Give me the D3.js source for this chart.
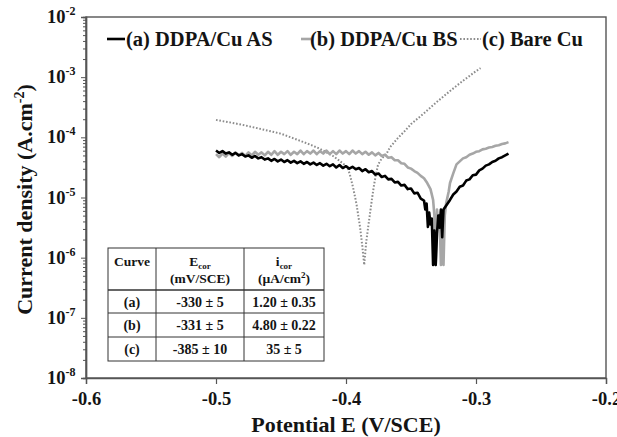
<!DOCTYPE html>
<html>
<head>
<meta charset="utf-8">
<script src="https://cdn.jsdelivr.net/npm/d3@7"></script>
<style>
  html, body { margin: 0; padding: 0; background: #fff; }
  svg { display: block; }
  svg text { font-family: "Liberation Serif", "DejaVu Serif", serif !important; font-weight: bold; }
</style>
</head>
<body>
<svg id="chart" width="617" height="437"></svg>
<script>
// Polarisation curves: potential E (V/SCE) vs current density (A/cm²)
const curveA = [ // (a) DDPA/Cu AS
  [-0.5000, 6.03e-5], [-0.4975, 5.50e-5], [-0.4950, 5.89e-5], [-0.4925, 5.37e-5], [-0.4900, 5.62e-5],
  [-0.4875, 5.13e-5], [-0.4850, 5.50e-5], [-0.4825, 5.01e-5], [-0.4800, 5.25e-5], [-0.4775, 4.79e-5],
  [-0.4750, 5.01e-5], [-0.4725, 4.57e-5], [-0.4700, 4.90e-5], [-0.4675, 4.47e-5], [-0.4650, 4.68e-5],
  [-0.4625, 4.27e-5], [-0.4600, 4.47e-5], [-0.4575, 4.07e-5], [-0.4550, 4.37e-5], [-0.4525, 3.98e-5],
  [-0.4500, 4.27e-5], [-0.4475, 3.89e-5], [-0.4450, 4.17e-5], [-0.4425, 3.80e-5], [-0.4400, 4.07e-5],
  [-0.4375, 3.72e-5], [-0.4350, 3.98e-5], [-0.4325, 3.63e-5], [-0.4300, 3.89e-5], [-0.4275, 3.55e-5],
  [-0.4250, 3.80e-5], [-0.4225, 3.47e-5], [-0.4200, 3.72e-5], [-0.4175, 3.39e-5], [-0.4150, 3.63e-5],
  [-0.4125, 3.31e-5], [-0.4100, 3.55e-5], [-0.4075, 3.16e-5], [-0.4050, 3.47e-5], [-0.4025, 3.09e-5],
  [-0.4000, 3.31e-5], [-0.3975, 3.02e-5], [-0.3950, 3.24e-5], [-0.3925, 2.95e-5], [-0.3900, 3.09e-5],
  [-0.3875, 2.75e-5], [-0.3850, 2.95e-5], [-0.3825, 2.63e-5], [-0.3800, 2.75e-5], [-0.3775, 2.40e-5],
  [-0.3750, 2.51e-5], [-0.3725, 2.19e-5], [-0.3700, 2.29e-5], [-0.3675, 2.00e-5], [-0.3650, 2.04e-5],
  [-0.3625, 1.78e-5], [-0.3600, 1.82e-5], [-0.3575, 1.58e-5], [-0.3550, 1.62e-5], [-0.3525, 1.38e-5],
  [-0.3500, 1.41e-5], [-0.3475, 1.17e-5], [-0.3450, 1.20e-5], [-0.3425, 9.55e-6], [-0.3400, 8.91e-6],
  [-0.3390, 6.31e-6], [-0.3380, 7.94e-6], [-0.3370, 3.24e-6], [-0.3360, 5.62e-6], [-0.3350, 3.55e-6],
  [-0.3340, 4.47e-6], [-0.3330, 7.59e-7], [-0.3320, 2.82e-6], [-0.3310, 7.59e-7], [-0.3300, 2.51e-6],
  [-0.3290, 5.01e-6], [-0.3280, 3.16e-6], [-0.3270, 6.31e-6], [-0.3260, 2.19e-6], [-0.3250, 6.31e-6],
  [-0.3225, 7.59e-6], [-0.3200, 9.12e-6], [-0.3175, 1.12e-5], [-0.3150, 1.26e-5], [-0.3125, 1.51e-5],
  [-0.3100, 1.58e-5], [-0.3075, 1.91e-5], [-0.3050, 2.00e-5], [-0.3025, 2.34e-5], [-0.3000, 2.40e-5],
  [-0.2975, 2.82e-5], [-0.2950, 3.02e-5], [-0.2925, 3.39e-5], [-0.2900, 3.55e-5], [-0.2875, 3.89e-5],
  [-0.2850, 4.07e-5], [-0.2825, 4.47e-5], [-0.2800, 4.68e-5], [-0.2775, 5.01e-5], [-0.2750, 5.37e-5]
];

const curveB = [ // (b) DDPA/Cu BS
  [-0.5000, 5.25e-5], [-0.4975, 4.68e-5], [-0.4950, 5.37e-5], [-0.4925, 4.79e-5], [-0.4900, 5.50e-5],
  [-0.4875, 4.90e-5], [-0.4850, 5.62e-5], [-0.4825, 5.01e-5], [-0.4800, 5.50e-5], [-0.4775, 4.90e-5],
  [-0.4750, 5.62e-5], [-0.4725, 5.01e-5], [-0.4700, 5.75e-5], [-0.4675, 5.13e-5], [-0.4650, 5.62e-5],
  [-0.4625, 5.01e-5], [-0.4600, 5.75e-5], [-0.4575, 5.13e-5], [-0.4550, 5.89e-5], [-0.4525, 5.13e-5],
  [-0.4500, 5.75e-5], [-0.4475, 5.25e-5], [-0.4450, 5.89e-5], [-0.4425, 5.13e-5], [-0.4400, 5.75e-5],
  [-0.4375, 5.25e-5], [-0.4350, 6.03e-5], [-0.4325, 5.25e-5], [-0.4300, 5.89e-5], [-0.4275, 5.37e-5],
  [-0.4250, 6.03e-5], [-0.4225, 5.25e-5], [-0.4200, 5.89e-5], [-0.4175, 5.37e-5], [-0.4150, 6.03e-5],
  [-0.4125, 5.25e-5], [-0.4100, 5.89e-5], [-0.4075, 5.25e-5], [-0.4050, 6.03e-5], [-0.4025, 5.37e-5],
  [-0.4000, 5.89e-5], [-0.3975, 5.25e-5], [-0.3950, 6.03e-5], [-0.3925, 5.37e-5], [-0.3900, 5.89e-5],
  [-0.3875, 5.25e-5], [-0.3850, 5.75e-5], [-0.3825, 5.13e-5], [-0.3800, 5.62e-5], [-0.3775, 5.01e-5],
  [-0.3750, 5.50e-5], [-0.3725, 4.90e-5], [-0.3700, 5.13e-5], [-0.3675, 4.57e-5], [-0.3650, 4.68e-5],
  [-0.3625, 4.17e-5], [-0.3600, 4.17e-5], [-0.3575, 3.72e-5], [-0.3550, 3.63e-5], [-0.3525, 3.16e-5],
  [-0.3500, 3.02e-5], [-0.3475, 2.75e-5], [-0.3450, 2.57e-5], [-0.3425, 2.29e-5], [-0.3400, 2.09e-5],
  [-0.3375, 1.74e-5], [-0.3350, 1.38e-5], [-0.3330, 9.12e-6], [-0.3320, 5.01e-6], [-0.3310, 7.59e-7],
  [-0.3300, 6.31e-6], [-0.3290, 3.55e-6], [-0.3280, 5.01e-6], [-0.3270, 7.59e-7], [-0.3260, 3.16e-6],
  [-0.3250, 7.59e-7], [-0.3240, 5.01e-6], [-0.3230, 7.94e-6], [-0.3210, 1.26e-5], [-0.3200, 1.74e-5],
  [-0.3175, 2.51e-5], [-0.3150, 3.55e-5], [-0.3125, 3.98e-5], [-0.3100, 4.47e-5], [-0.3075, 4.68e-5],
  [-0.3050, 5.13e-5], [-0.3025, 5.37e-5], [-0.3000, 5.75e-5], [-0.2975, 5.89e-5], [-0.2950, 6.31e-5],
  [-0.2925, 6.46e-5], [-0.2900, 6.76e-5], [-0.2875, 6.92e-5], [-0.2850, 7.24e-5], [-0.2825, 7.41e-5],
  [-0.2800, 7.76e-5], [-0.2775, 7.94e-5], [-0.2750, 8.32e-5]
];

const curveC = [ // (c) Bare Cu
  [-0.5000, 1.95e-4], [-0.4900, 1.78e-4], [-0.4800, 1.62e-4], [-0.4700, 1.45e-4], [-0.4600, 1.29e-4],
  [-0.4500, 1.15e-4], [-0.4400, 9.55e-5], [-0.4300, 7.94e-5], [-0.4200, 6.46e-5], [-0.4100, 4.90e-5],
  [-0.4050, 4.07e-5], [-0.3990, 3.24e-5], [-0.3970, 2.40e-5], [-0.3946, 1.48e-5], [-0.3920, 7.94e-6],
  [-0.3892, 3.24e-6], [-0.3875, 1.58e-6], [-0.3860, 7.59e-7], [-0.3845, 1.78e-6], [-0.3830, 3.16e-6],
  [-0.3815, 5.50e-6], [-0.3800, 9.55e-6], [-0.3785, 1.58e-5], [-0.3770, 2.40e-5], [-0.3755, 3.39e-5],
  [-0.3740, 3.98e-5], [-0.3720, 4.57e-5], [-0.3700, 5.01e-5], [-0.3685, 5.50e-5], [-0.3660, 6.92e-5],
  [-0.3600, 9.77e-5], [-0.3550, 1.26e-4], [-0.3500, 1.66e-4], [-0.3450, 2.04e-4], [-0.3400, 2.51e-4],
  [-0.3300, 3.89e-4], [-0.3200, 5.89e-4], [-0.3100, 8.71e-4], [-0.3000, 1.26e-3], [-0.2965, 1.41e-3]
];

const legendLabels = ["(a) DDPA/Cu AS", "(b) DDPA/Cu BS", "(c) Bare Cu"];
const xTicks = [-0.6, -0.5, -0.4, -0.3, -0.2];
const yExponents = [-8, -7, -6, -5, -4, -3, -2];

const tableCurves = ["(a)", "(b)", "(c)"];
const tableEcor = ["-330 ± 5", "-331 ± 5", "-385 ± 10"];
const tableIcor = ["1.20 ± 0.35", "4.80 ± 0.22", "35 ± 5"];

// ---------------------------------------------------------------
const svg = d3.select("#chart");
const M = { left: 86, right: 606, top: 17, bottom: 378 };

const x = d3.scaleLinear().domain([-0.6, -0.2]).range([M.left, M.right]);
const y = d3.scaleLog().domain([1e-8, 1e-2]).range([M.bottom, M.top]);

const axisColor = "#555";
const ink = "#141414";

// frame
svg.append("rect")
  .attr("x", M.left).attr("y", M.top)
  .attr("width", M.right - M.left).attr("height", M.bottom - M.top)
  .attr("fill", "none").attr("stroke", axisColor).attr("stroke-width", 1.4);

// bottom axis
const xAxis = svg.append("g")
  .attr("transform", `translate(0,${M.bottom})`)
  .call(d3.axisBottom(x).tickValues(xTicks).tickSize(6).tickPadding(8)
    .tickFormat(d => d.toFixed(1)));
xAxis.select(".domain").attr("stroke", axisColor).attr("stroke-width", 1.4);
xAxis.selectAll(".tick line").attr("stroke", axisColor).attr("stroke-width", 1.2);
xAxis.selectAll(".tick text").attr("fill", ink).attr("font-size", 18.5);

// left axis: majors + log minors
const minorVals = [];
for (let e = -8; e < -2; e++) for (let m = 2; m <= 9; m++) minorVals.push(m * Math.pow(10, e));
const yAxis = svg.append("g").attr("transform", `translate(${M.left},0)`);
yAxis.call(d3.axisLeft(y).tickValues(minorVals).tickSize(3).tickFormat(""));
yAxis.append("g").call(d3.axisLeft(y).tickValues(yExponents.map(e => Math.pow(10, e))).tickSize(5).tickFormat(""));
yAxis.selectAll(".domain").attr("stroke", axisColor).attr("stroke-width", 1.4);
yAxis.selectAll(".tick line").attr("stroke", axisColor).attr("stroke-width", 1);

// y tick labels 10^n
const yl = svg.append("g").attr("fill", ink);
yExponents.forEach(e => {
  const t = yl.append("text")
    .attr("x", 47).attr("y", y(Math.pow(10, e)) + 6)
    .attr("font-size", 18.5);
  t.append("tspan").text("10");
  t.append("tspan").attr("font-size", 12).attr("dy", -8).text(String(e));
});

// axis titles
svg.append("text")
  .attr("x", (M.left + M.right) / 2).attr("y", 432)
  .attr("text-anchor", "middle").attr("font-size", 22).attr("fill", ink)
  .text("Potential E (V/SCE)");

const yt = svg.append("text")
  .attr("transform", `translate(32,${(M.top + M.bottom) / 2 + 2}) rotate(-90)`)
  .attr("text-anchor", "middle").attr("font-size", 22).attr("fill", ink);
yt.append("tspan").text("Current density (A.cm");
yt.append("tspan").attr("font-size", 14).attr("dy", -8).text("-2");
yt.append("tspan").attr("dy", 8).text(")");

// curves
const line = d3.line().x(d => x(d[0])).y(d => y(d[1]));
const plot = svg.append("g");
plot.append("path").datum(curveC).attr("d", line)
  .attr("fill", "none").attr("stroke", "#8c8c8c").attr("stroke-width", 2)
  .attr("stroke-dasharray", "1.6,1.8");
plot.append("path").datum(curveB).attr("d", line)
  .attr("fill", "none").attr("stroke", "#a6a6a6").attr("stroke-width", 2.6)
  .attr("stroke-linejoin", "round");
plot.append("path").datum(curveA).attr("d", line)
  .attr("fill", "none").attr("stroke", "#000").attr("stroke-width", 2.6)
  .attr("stroke-linejoin", "round");

// legend
const legendItems = [
  { x0: 107, x1: 125, tx: 126, stroke: "#000", w: 2.6, dash: null },
  { x0: 301, x1: 311, tx: 310, stroke: "#a6a6a6", w: 2.6, dash: null },
  { x0: 460, x1: 481, tx: 482, stroke: "#8c8c8c", w: 2, dash: "1.6,1.8" }
];
const lg = svg.append("g");
legendItems.forEach((it, i) => {
  lg.append("line").attr("x1", it.x0).attr("x2", it.x1).attr("y1", 39).attr("y2", 39)
    .attr("stroke", it.stroke).attr("stroke-width", it.w)
    .attr("stroke-dasharray", it.dash);
  lg.append("text").attr("x", it.tx).attr("y", 46)
    .attr("font-size", 20.5).attr("fill", ink).text(legendLabels[i]);
});

// table of corrosion parameters
const T = { cols: [108, 156, 244, 324], rows: [248, 290, 313, 337, 361] };
const tb = svg.append("g").attr("fill", ink).attr("font-size", 13.5);
tb.append("rect").attr("x", T.cols[0]).attr("y", T.rows[0])
  .attr("width", T.cols[3] - T.cols[0]).attr("height", T.rows[4] - T.rows[0])
  .attr("fill", "#fff").attr("stroke", "#333").attr("stroke-width", 1);
[1, 2].forEach(c => tb.append("line")
  .attr("x1", T.cols[c]).attr("x2", T.cols[c]).attr("y1", T.rows[0]).attr("y2", T.rows[4])
  .attr("stroke", "#333").attr("stroke-width", 1));
[1, 2, 3].forEach(r => tb.append("line")
  .attr("x1", T.cols[0]).attr("x2", T.cols[3]).attr("y1", T.rows[r]).attr("y2", T.rows[r])
  .attr("stroke", "#333").attr("stroke-width", r === 1 ? 1.5 : 1));

const cx = c => (T.cols[c] + T.cols[c + 1]) / 2;
tb.append("text").attr("x", cx(0)).attr("y", 266).attr("text-anchor", "middle").text("Curve");
const h1 = tb.append("text").attr("x", cx(1)).attr("y", 266).attr("text-anchor", "middle");
h1.append("tspan").text("E");
h1.append("tspan").attr("font-size", 9).attr("dy", 3).text("cor");
tb.append("text").attr("x", cx(1)).attr("y", 283).attr("text-anchor", "middle").text("(mV/SCE)");
const h2 = tb.append("text").attr("x", cx(2)).attr("y", 266).attr("text-anchor", "middle");
h2.append("tspan").text("i");
h2.append("tspan").attr("font-size", 9).attr("dy", 3).text("cor");
const h3 = tb.append("text").attr("x", cx(2)).attr("y", 283).attr("text-anchor", "middle");
h3.append("tspan").text("(µA/cm");
h3.append("tspan").attr("font-size", 9).attr("dy", -5).text("2");
h3.append("tspan").attr("dy", 5).text(")");

tableCurves.forEach((c, i) => {
  const by = (T.rows[i + 1] + T.rows[i + 2]) / 2 + 5;
  tb.append("text").attr("x", cx(0)).attr("y", by).attr("text-anchor", "middle").attr("font-size", 14).text(c);
  tb.append("text").attr("x", cx(1)).attr("y", by).attr("text-anchor", "middle").attr("font-size", 14).text(tableEcor[i]);
  tb.append("text").attr("x", cx(2)).attr("y", by).attr("text-anchor", "middle").attr("font-size", 14).text(tableIcor[i]);
});
</script>
</body>
</html>
